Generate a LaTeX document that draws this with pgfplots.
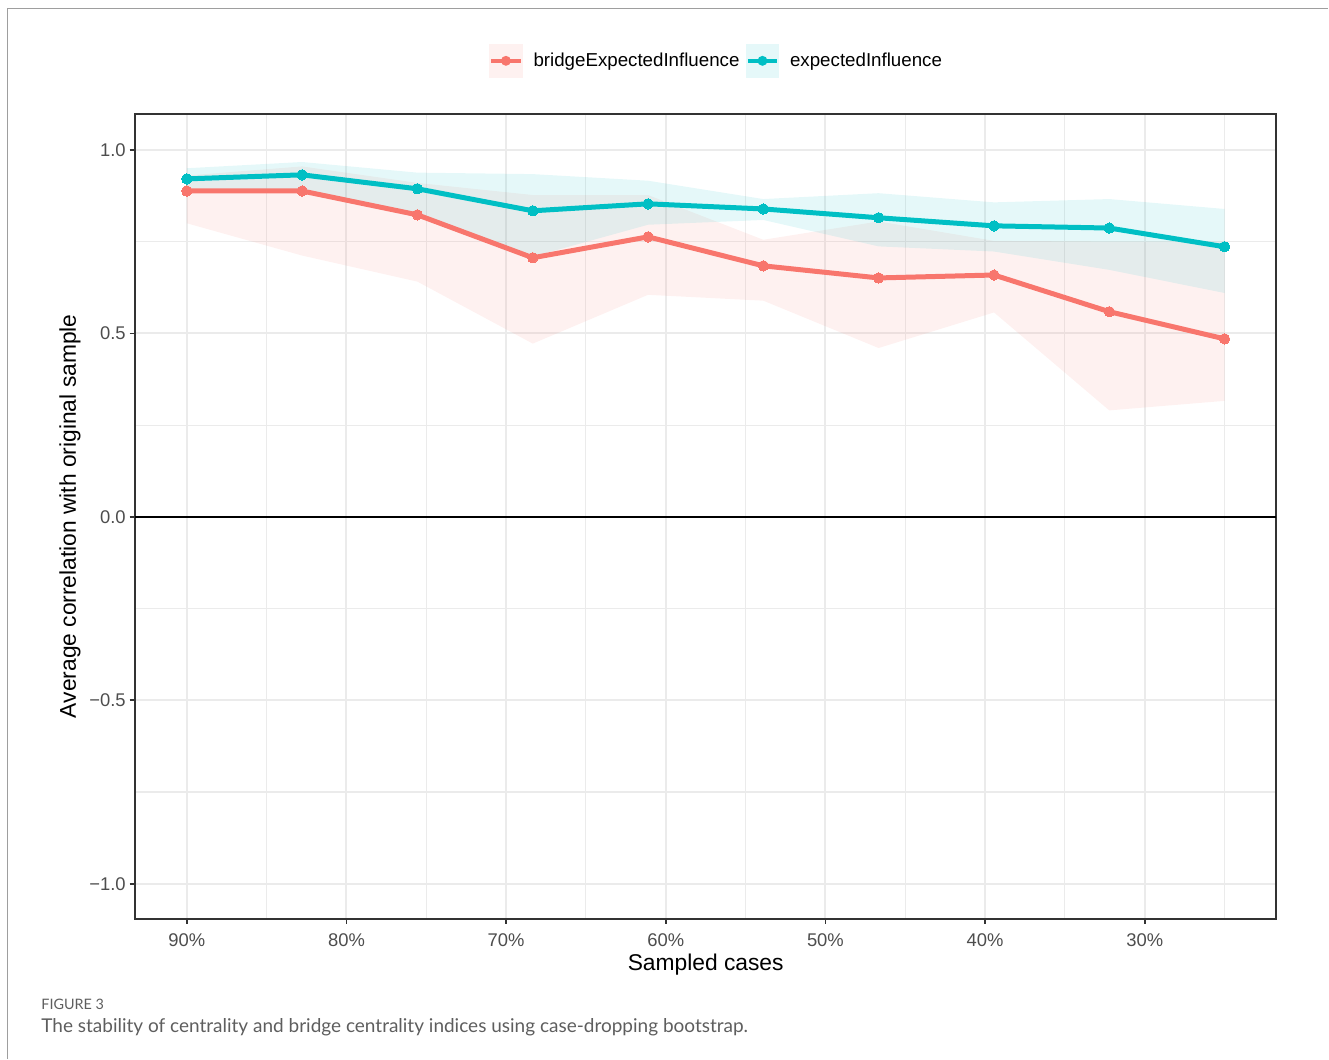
\documentclass[border=0pt]{standalone}
\usepackage{fontspec}
\setmainfont{Liberation Sans}
\newfontfamily\capfont{Lato}
\usepackage{pgfplots}
\pgfplotsset{compat=1.18}
\usepgfplotslibrary{fillbetween}
\usepackage{pgfplotstable}
\definecolor{cred}{HTML}{F8766D}
\definecolor{cteal}{HTML}{00BFC4}
\definecolor{gridc}{HTML}{EBEBEB}
\definecolor{tickc}{HTML}{4D4D4D}
\definecolor{borderc}{HTML}{333333}
\definecolor{capc}{HTML}{5E5E5E}

\pgfplotstableread{
x      mean   lo     hi
90.00  0.888  0.800  0.930
82.78  0.888  0.712  0.955
75.56  0.823  0.641  0.910
68.33  0.706  0.472  0.877
61.11  0.763  0.605  0.877
53.89  0.684  0.589  0.755
46.67  0.651  0.460  0.805
39.44  0.659  0.557  0.752
32.22  0.559  0.290  0.750
25.00  0.485  0.316  0.750
}\bridge

\pgfplotstableread{
x      mean   lo     hi
90.00  0.921  0.885  0.950
82.78  0.932  0.885  0.967
75.56  0.894  0.825  0.938
68.33  0.834  0.709  0.934
61.11  0.853  0.796  0.916
53.89  0.839  0.809  0.866
46.67  0.815  0.737  0.882
39.44  0.793  0.723  0.857
32.22  0.787  0.673  0.866
25.00  0.736  0.610  0.839
}\expinf

\begin{document}
\begin{tikzpicture}[x=1pt,y=1pt]
\path (0,0) rectangle (664.5,529.5);
\draw[color=black!38, line width=0.6pt] (3.75,0) -- (3.75,525.25) -- (664.5,525.25);
\begin{axis}[
  at={(67.5pt,70pt)}, anchor=south west,
  scale only axis, width=571pt, height=402.5pt,
  x dir=reverse,
  xmin=21.75, xmax=93.25, ymin=-1.095, ymax=1.098,
  xtick={30,40,50,60,70,80,90},
  xticklabels={30\%,40\%,50\%,60\%,70\%,80\%,90\%},
  minor xtick={25,35,45,55,65,75,85},
  ytick={-1,-0.5,0,0.5,1},
  yticklabels={−1.0,−0.5,0.0,0.5,1.0},
  minor ytick={-0.75,-0.25,0.25,0.75},
  grid=both,
  major grid style={draw=gridc, line width=1pt},
  minor grid style={draw=gridc, line width=0.55pt},
  axis line style={draw=borderc, line width=1pt},
  tick align=outside,
  major tick length=2.6pt,
  minor tick length=0pt,
  tick style={draw=borderc, line width=0.8pt},
  xtick pos=bottom, ytick pos=left,
  ticklabel style={font=\fontsize{9.2}{11}\selectfont, text=tickc},
  xticklabel style={yshift=-1.2pt},
  yticklabel style={xshift=1.5pt},
  xlabel={Sampled cases},
  ylabel={Average correlation with original sample},
  label style={font=\fontsize{11.4}{13}\selectfont},
  xlabel style={at={(axis description cs:0.5,-0.0575)}, anchor=center},
  ylabel style={at={(axis description cs:-0.0569,0.5)}, anchor=center},
  legend style={at={(0.509,1.066)}, anchor=center, draw=none, fill=none,
    legend columns=2, font=\fontsize{9.36}{11}\selectfont,
    /tikz/every odd column/.append style={column sep=4.8pt},
    /tikz/every even column/.append style={column sep=2.5pt},
    nodes={inner sep=0.5pt}},
  legend cell align=left,
]
\addplot[draw=none, name path=rhi, forget plot] table[x=x,y=hi]{\bridge};
\addplot[draw=none, name path=rlo, forget plot] table[x=x,y=lo]{\bridge};
\addplot[fill=cred, fill opacity=0.1, draw=none, forget plot] fill between[of=rhi and rlo];
\addplot[draw=none, name path=thi, forget plot] table[x=x,y=hi]{\expinf};
\addplot[draw=none, name path=tlo, forget plot] table[x=x,y=lo]{\expinf};
\addplot[fill=cteal, fill opacity=0.1, draw=none, forget plot] fill between[of=thi and tlo];
\addplot[black, line width=1pt, forget plot] coordinates {(21.75,0) (93.25,0)};
\addplot[cred, line width=2.5pt, mark=*, mark size=2.6pt, mark options={solid, fill=cred, draw=cred, line width=0pt},
  legend image code/.code={
    \path[draw=none, fill=cred, fill opacity=0.1] (0pt,-8.5pt) rectangle (17pt,8.5pt);
    \path[draw=cred, line width=2.3pt] (1.2pt,0pt) -- (15.8pt,0pt);
    \path[draw=none, fill=cred] (8.5pt,0pt) circle (2.5pt);
  }] table[x=x,y=mean]{\bridge};
\addlegendentry{bridgeExpectedInfluence}
\addplot[cteal, line width=2.5pt, mark=*, mark size=2.6pt, mark options={solid, fill=cteal, draw=cteal, line width=0pt},
  legend image code/.code={
    \path[draw=none, fill=cteal, fill opacity=0.1] (0pt,-8.5pt) rectangle (17pt,8.5pt);
    \path[draw=cteal, line width=2.3pt] (1.2pt,0pt) -- (15.8pt,0pt);
    \path[draw=none, fill=cteal] (8.5pt,0pt) circle (2.5pt);
  }] table[x=x,y=mean]{\expinf};
\addlegendentry{expectedInfluence}
\end{axis}
\node[anchor=base west, inner sep=0pt, text=capc, font=\capfont\fontsize{7.2}{8}\selectfont] at (20.5,24.5) {FIGURE 3};
\node[anchor=base west, inner sep=0pt, text=capc, font=\capfont\fontsize{9.5}{11}\selectfont] at (20.5,12.8) {The stability of centrality and bridge centrality indices using case-dropping bootstrap.};
\end{tikzpicture}
\end{document}
